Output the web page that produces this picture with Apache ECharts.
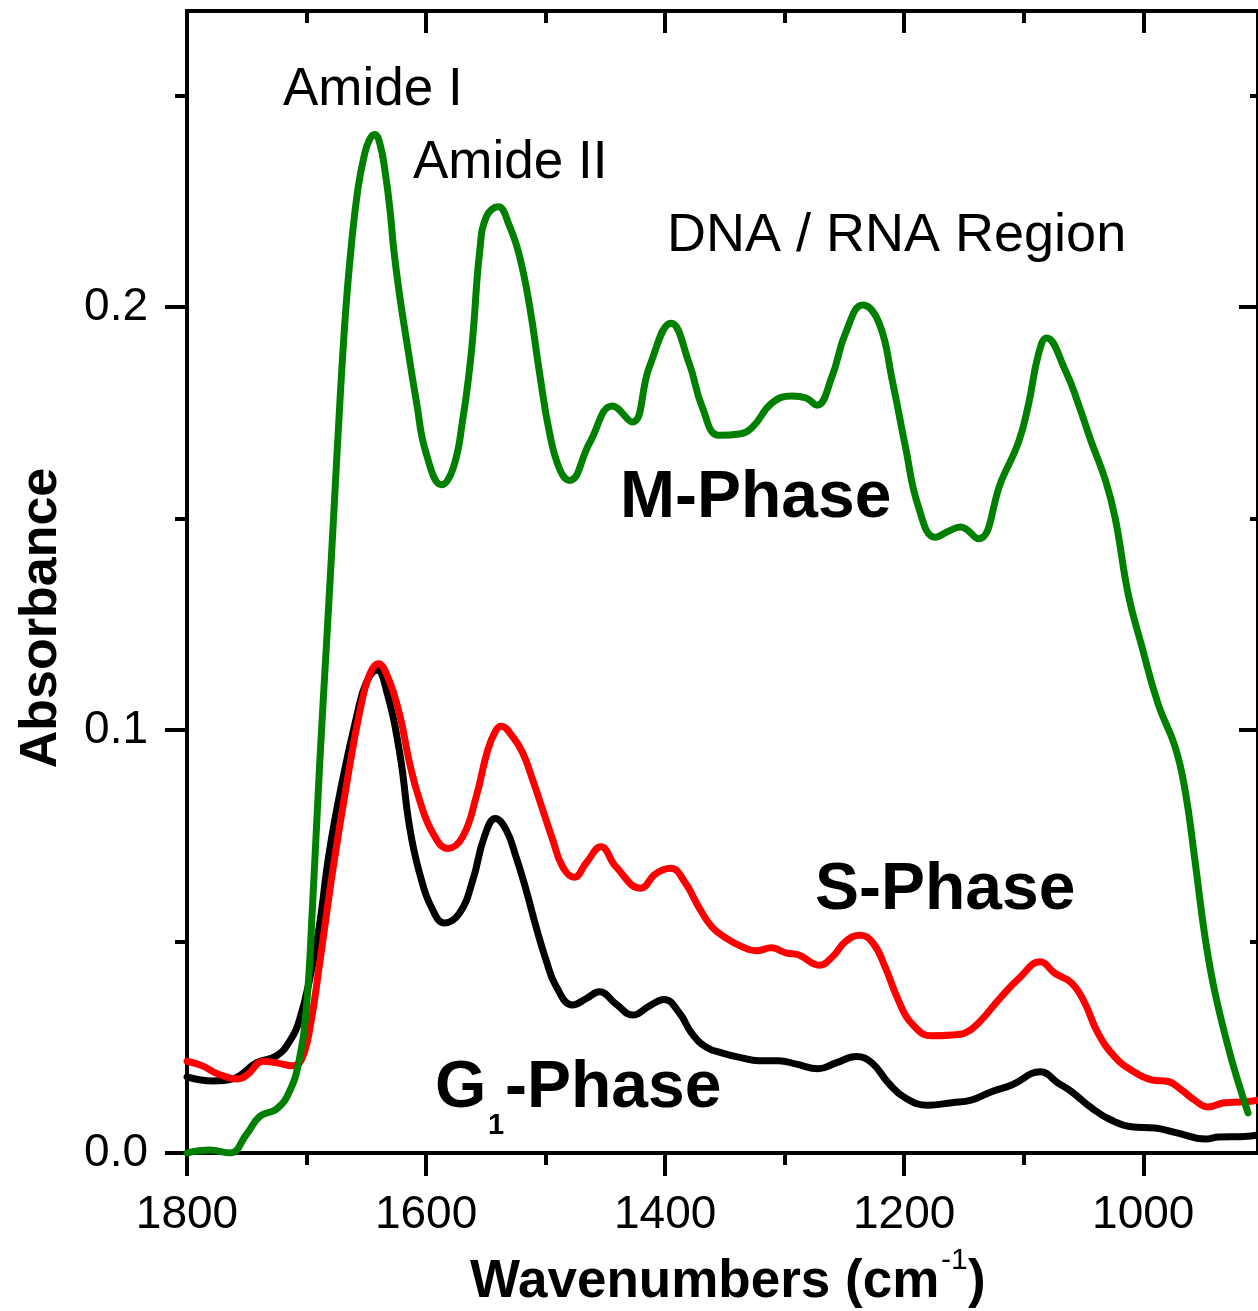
<!DOCTYPE html>
<html>
<head>
<meta charset="utf-8">
<script src="https://cdn.jsdelivr.net/npm/echarts@6/dist/echarts.min.js"></script>
<style>
html,body{margin:0;padding:0;background:#fff;}
#chart{width:1258px;height:1311px;}
</style>
</head>
<body>
<div id="chart"></div>
<script>
// ---------- data ----------
const mWave = [1800,1781,1764,1750,1739,1725,1714,1706,1700,1695,1689,1683,1677.5,1672,1667,1662,1657,1652,1647.5,1643,1638.5,1634,1630,1627,1622,1616,1608,1600,1587,1577,1569,1563.4,1560.6,1555,1549.5,1539.7,1530,1521.7,1513.3,1505,1496.6,1488,1480,1463,1444,1427.6,1413,1395,1380,1369,1355,1338,1327,1310.6,1294,1282,1273,1260.5,1249,1234.7,1221,1210,1199,1188,1174,1163,1153,1138,1118.6,1104.4,1096,1087.7,1081,1065,1054.3,1043.4,1031.7,1023.4,1012.5,1001.7,987.5,973.3,964.9,956.6,948.2,939.9,926.5,912.3];
const mAbs  = [0.0,0.0007,0.0,0.0045,0.0087,0.0104,0.0147,0.0222,0.0348,0.0584,0.092,0.1218,0.1496,0.178,0.200,0.216,0.228,0.2355,0.2395,0.2408,0.2385,0.2315,0.2225,0.2135,0.2025,0.1915,0.1775,0.1655,0.158,0.1622,0.174,0.1859,0.194,0.2135,0.2214,0.2237,0.219,0.2119,0.2001,0.1843,0.1701,0.1615,0.159,0.168,0.1766,0.1728,0.186,0.1962,0.1868,0.1764,0.1697,0.170,0.1716,0.1773,0.179,0.1785,0.1768,0.1835,0.1939,0.2005,0.1962,0.1827,0.167,0.1527,0.1456,0.147,0.148,0.1452,0.159,0.168,0.177,0.1888,0.1927,0.1849,0.1771,0.1681,0.1591,0.150,0.132,0.1203,0.1061,0.096,0.0856,0.0688,0.0508,0.0378,0.0225,0.0095];

const sWave = [1800,1787,1775,1758,1750,1736,1725,1711,1704,1697,1689,1678,1666,1655,1647,1640,1632,1622,1613.8,1605.4,1594.3,1581.8,1569.3,1558.1,1548.4,1541.4,1537.2,1527.5,1519,1510.8,1502.4,1494,1485.8,1476,1466,1453.7,1441.2,1420.3,1408,1395.2,1383,1372,1361,1349,1336,1324,1311,1299,1288,1271,1260,1249,1237,1226,1216,1205,1194,1177,1160,1149,1138,1121,1104,1086,1074,1060,1049,1038,1024,1010,993,979,968,957,946,932,915,904];
const sAbs  = [0.0217,0.0206,0.0188,0.0175,0.0184,0.0217,0.0213,0.0206,0.0222,0.0298,0.0449,0.0669,0.088,0.105,0.1133,0.1157,0.1125,0.1035,0.0922,0.0834,0.0756,0.072,0.0748,0.0842,0.0953,0.1,0.1009,0.0984,0.0945,0.0882,0.0811,0.074,0.0677,0.0652,0.0686,0.0724,0.0677,0.0626,0.066,0.0673,0.0638,0.0582,0.0535,0.0508,0.0488,0.0478,0.0485,0.0473,0.0468,0.0444,0.0464,0.05,0.0515,0.0496,0.044,0.0362,0.0307,0.0277,0.0279,0.0284,0.0307,0.0362,0.0413,0.0452,0.0425,0.0402,0.0355,0.0284,0.0228,0.0196,0.0173,0.0169,0.0149,0.0125,0.0109,0.0119,0.0121,0.0125];

const gWave = [1800,1778,1762,1742,1725,1714,1706,1697,1689,1681,1670,1658,1650,1641,1633,1622,1613.8,1605.4,1594.3,1584.6,1572,1560.9,1551.2,1542,1533,1524.7,1516.3,1508,1499.6,1491,1477.4,1466,1455,1441,1427,1413,1401,1388,1378,1366,1352,1336,1322,1305,1290,1272,1257,1240,1227,1213,1199,1180,1160,1144,1127,1110,1086,1071,1060,1043,1027,1010,990,971,948,937,915,904];
const gAbs  = [0.018,0.017,0.0175,0.0213,0.023,0.0265,0.0314,0.0416,0.0542,0.0711,0.088,0.1033,0.1112,0.1142,0.1092,0.0945,0.0771,0.0661,0.0574,0.0544,0.0567,0.0645,0.0748,0.0791,0.0764,0.07,0.0622,0.0535,0.0456,0.0393,0.035,0.0365,0.0381,0.0352,0.0326,0.0348,0.0363,0.0331,0.0284,0.0251,0.0236,0.0225,0.0218,0.0218,0.021,0.0199,0.0213,0.0228,0.0213,0.0165,0.013,0.0113,0.0119,0.0125,0.0145,0.0161,0.0192,0.0165,0.0145,0.0106,0.0078,0.0062,0.0059,0.0047,0.0033,0.0038,0.0039,0.0043];

const xMajorTicks = [1800,1600,1400,1200,1000];
const xMinorTicks = [1700,1500,1300,1100];
const yMajorTicks = [0, 0.1, 0.2];
const yMinorTicks = [0.05, 0.15, 0.25];

// ---------- chart ----------
const FONT = '"Liberation Sans", Arial, Helvetica, sans-serif';
const zip = (w, a) => w.map((v, i) => [v, a[i]]);
const AX = {color:'#000', width:4};

function xAx(grid, pos, ticks, len, inside, labels){
  return {
    gridIndex: grid, type:'value', position: pos, inverse:true, min:904, max:1800,
    axisLine:{show:true, onZero:false, lineStyle:AX},
    axisTick:{show:true, inside:inside, length:len, customValues:ticks, lineStyle:AX},
    axisLabel: labels ? {show:true, customValues:ticks, margin:39, fontSize:46, color:'#000', fontFamily:FONT,
                         formatter: v => String(Math.round(v))} : {show:false},
    splitLine:{show:false}
  };
}
function yAx(grid, pos, ticks, len, inside, labels){
  return {
    gridIndex: grid, type:'value', position: pos, min:0, max:0.27,
    axisLine:{show:true, onZero:false, lineStyle:AX},
    axisTick:{show:true, inside:inside, length:len, customValues:ticks, lineStyle:AX},
    axisLabel: labels ? {show:true, customValues:ticks, margin:39, fontSize:46, color:'#000', fontFamily:FONT,
                         formatter: v => Number(v).toFixed(1)} : {show:false},
    splitLine:{show:false}
  };
}

const chart = echarts.init(document.getElementById('chart'), null, {renderer:'canvas'});
const gridRect = {left:187, top:11, width:1073, height:1142, containLabel:false};

function txt(text, x, y, font){
  return {
    type:'text', z:100,
    style:{text:text, x:x, y:y, font:font, fill:'#000', textAlign:'left', textVerticalAlign:'middle'}
  };
}
const N53 = '53px ' + FONT, N54 = '54px ' + FONT, B66 = 'bold 66px ' + FONT, B53 = 'bold 53px ' + FONT;

const LW = 7;
chart.setOption({
  animation:false,
  backgroundColor:'#fff',
  grid:[gridRect, Object.assign({}, gridRect)],
  xAxis:[
    xAx(0,'bottom', xMajorTicks, 23, false, true),
    xAx(0,'top',    xMajorTicks, 22, true,  false),
    xAx(1,'bottom', xMinorTicks, 12, false, false),
    xAx(1,'top',    xMinorTicks, 12, true,  false)
  ],
  yAxis:[
    yAx(0,'left',  yMajorTicks, 22, false, true),
    yAx(0,'right', yMajorTicks, 19, true,  false),
    yAx(1,'left',  yMinorTicks, 12, false, false),
    yAx(1,'right', yMinorTicks, 8,  true,  false)
  ],
  series:[
    {name:'G1-Phase', type:'line', xAxisIndex:0, yAxisIndex:0, data:zip(gWave,gAbs), smooth:0.45, showSymbol:false, z:2,
     lineStyle:{color:'#000000', width:LW, cap:'round', join:'round'}},
    {name:'S-Phase', type:'line', xAxisIndex:0, yAxisIndex:0, data:zip(sWave,sAbs), smooth:0.45, showSymbol:false, z:3,
     lineStyle:{color:'#ff0000', width:LW, cap:'round', join:'round'}},
    {name:'M-Phase', type:'line', xAxisIndex:0, yAxisIndex:0, data:zip(mWave,mAbs), smooth:0.45, showSymbol:false, z:4,
     lineStyle:{color:'#008000', width:LW, cap:'round', join:'round'}}
  ],
  graphic:[
    txt('Amide I', 283, 90, N53),
    txt('Amide II', 413, 163, N53),
    txt('DNA / RNA Region', 667, 236, N54),
    txt('M-Phase', 620, 499, B66),
    txt('S-Phase', 815, 891, B66),
    txt('G', 435, 1089, B66),
    txt('1', 488, 1126, 'bold 29px ' + FONT),
    txt('-Phase', 505, 1089, B66),
    txt('Wavenumbers (cm', 470, 1282, B53),
    txt('-1', 941, 1261, '30px ' + FONT),
    txt(')', 968, 1282, B53),
    {type:'text', z:100, x:42, y:618, rotation:Math.PI/2,
     style:{text:'Absorbance', x:0, y:0, font:'bold 52px ' + FONT, fill:'#000', textAlign:'center', textVerticalAlign:'middle'}}
  ]
});
</script>
</body>
</html>
